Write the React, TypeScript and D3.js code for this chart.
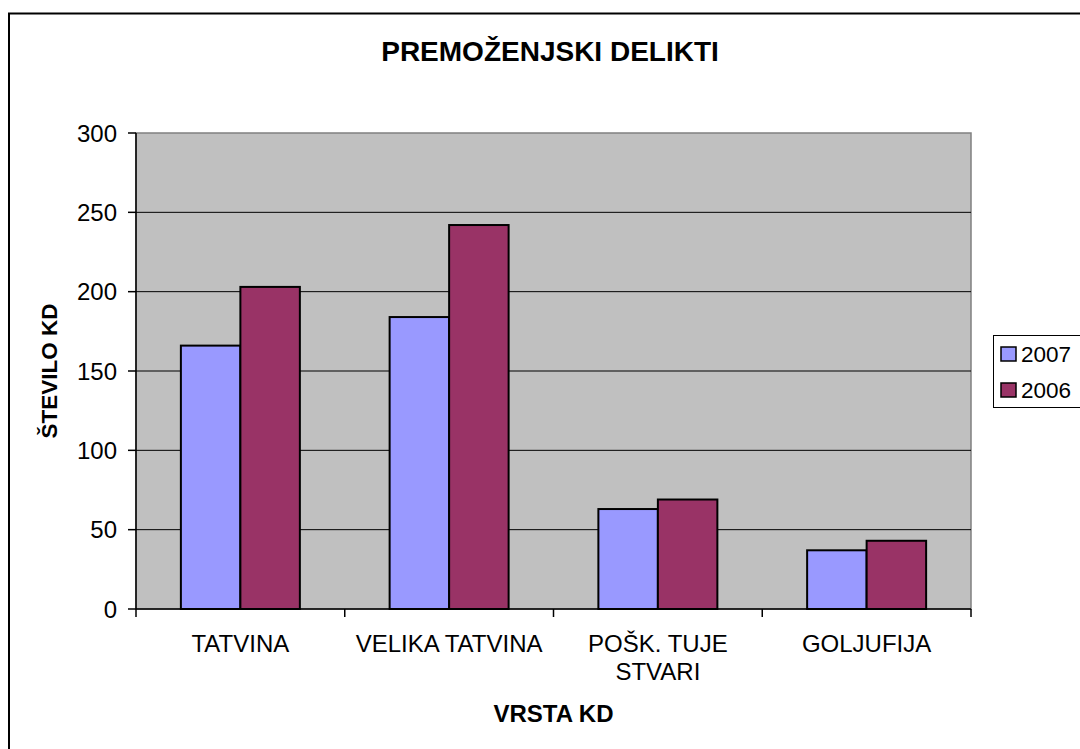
import React from 'react'
import * as d3 from 'd3'

const width = 1080
const height = 749

const categories = ['TATVINA', 'VELIKA TATVINA', 'POŠK. TUJE STVARI', 'GOLJUFIJA']
// tick labels as they wrap in the picture
const categoryLines = [['TATVINA'], ['VELIKA TATVINA'], ['POŠK. TUJE', 'STVARI'], ['GOLJUFIJA']]
const seriesNames = ['2007', '2006']
const values2007 = [166, 184, 63, 37]
const values2006 = [203, 242, 69, 43]
const yTicks = [0, 50, 100, 150, 200, 250, 300]
const colors = ['#9999FF', '#993366']

const plot = { left: 136, right: 971, top: 133, bottom: 609 }
const font = 'Arial, "Liberation Sans", sans-serif'

export default function App() {
    const series = [values2007, values2006]

    const x = d3
        .scaleBand()
        .domain(categories)
        .range([plot.left, plot.right])
        .paddingInner(0.43)
        .paddingOuter(0.215)
    const xSub = d3.scaleBand().domain(seriesNames).range([0, x.bandwidth()])
    const y = d3.scaleLinear().domain([0, 300]).range([plot.bottom, plot.top])

    const step = x.step()
    const boundaries = d3.range(categories.length + 1).map((i) => plot.left + i * step)

    return (
        <svg
            width={width}
            height={height}
            style={{ position: 'fixed', left: 0, top: 0, background: '#fff' }}
            fontFamily={font}
        >
            {/* outer chart border, runs off the page on the right and bottom */}
            <rect x={9} y={13.5} width={1200} height={900} fill="#fff" stroke="#000" strokeWidth={2} />

            <text x={550} y={61} textAnchor="middle" fontSize={28} fontWeight="bold">
                PREMOŽENJSKI DELIKTI
            </text>

            {/* plot area */}
            <rect
                x={plot.left}
                y={plot.top}
                width={plot.right - plot.left}
                height={plot.bottom - plot.top}
                fill="#C0C0C0"
                stroke="#808080"
                strokeWidth={1.5}
            />
            {yTicks.slice(1, -1).map((t) => (
                <line key={t} x1={plot.left} x2={plot.right} y1={y(t)} y2={y(t)} stroke="#000" strokeWidth={1} />
            ))}

            {/* bars */}
            {categories.map((c, i) =>
                seriesNames.map((s, j) => (
                    <rect
                        key={c + s}
                        x={(x(c) ?? 0) + (xSub(s) ?? 0)}
                        y={y(series[j][i])}
                        width={xSub.bandwidth()}
                        height={y(0) - y(series[j][i])}
                        fill={colors[j]}
                        stroke="#000"
                        strokeWidth={2}
                    />
                ))
            )}

            {/* y axis */}
            <line x1={plot.left} x2={plot.left} y1={plot.top} y2={plot.bottom} stroke="#000" strokeWidth={1.5} />
            {yTicks.map((t) => (
                <g key={t}>
                    <line x1={plot.left - 8} x2={plot.left} y1={y(t)} y2={y(t)} stroke="#000" strokeWidth={1.5} />
                    <text x={117} y={y(t)} dy="0.36em" textAnchor="end" fontSize={24}>
                        {t}
                    </text>
                </g>
            ))}

            {/* x axis */}
            <line x1={plot.left} x2={plot.right} y1={plot.bottom} y2={plot.bottom} stroke="#000" strokeWidth={1.5} />
            {boundaries.map((b, i) => (
                <line key={i} x1={b} x2={b} y1={plot.bottom} y2={plot.bottom + 8} stroke="#000" strokeWidth={1.5} />
            ))}
            {categories.map((c, i) => (
                <text key={c} textAnchor="middle" fontSize={24}>
                    {categoryLines[i].map((line, k) => (
                        <tspan key={k} x={(x(c) ?? 0) + x.bandwidth() / 2} y={652 + k * 28}>
                            {line}
                        </tspan>
                    ))}
                </text>
            ))}

            <text x={553.5} y={722} textAnchor="middle" fontSize={24} fontWeight="bold">
                VRSTA KD
            </text>
            <text
                transform={`translate(57, ${(plot.top + plot.bottom) / 2}) rotate(-90)`}
                textAnchor="middle"
                fontSize={22.5}
                fontWeight="bold"
            >
                ŠTEVILO KD
            </text>

            {/* legend */}
            <rect x={993.5} y={335.5} width={120} height={72} fill="#fff" stroke="#000" strokeWidth={1} />
            {seriesNames.map((s, j) => (
                <g key={s} transform={`translate(1001, ${347 + j * 36})`}>
                    <rect x={0} y={0} width={15} height={14} fill={colors[j]} stroke="#000" strokeWidth={1.5} />
                    <text x={20} y={14.5} fontSize={22.5}>
                        {s}
                    </text>
                </g>
            ))}
        </svg>
    )
}
